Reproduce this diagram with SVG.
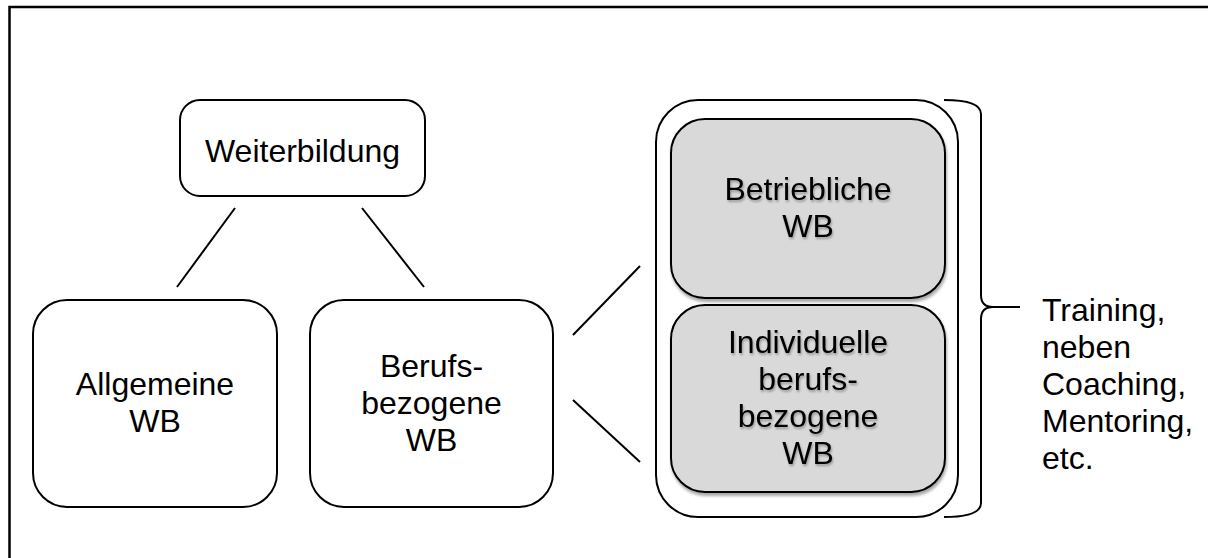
<svg xmlns="http://www.w3.org/2000/svg" width="1208" height="558" viewBox="0 0 1208 558">
<style>
  .box { fill: #ffffff; stroke: #000000; stroke-width: 2; }
  .gbox { fill: #d9d9d9; stroke: #000000; stroke-width: 2; filter: url(#boxShadow); }
  .lbl { font-family: "Liberation Sans", Arial, sans-serif; font-size: 32px; fill: #000000; text-anchor: middle; }
  .glbl { filter: url(#txtShadow); }
  .side { font-family: "Liberation Sans", Arial, sans-serif; font-size: 32px; fill: #000000; text-anchor: start; }
  .conn { stroke: #000000; stroke-width: 2; fill: none; }
</style>
<defs>
  <filter id="boxShadow" x="-10%" y="-10%" width="120%" height="130%">
    <feDropShadow dx="1" dy="3" stdDeviation="1.5" flood-color="#000000" flood-opacity="0.35"/>
  </filter>
  <filter id="txtShadow" x="-10%" y="-20%" width="120%" height="150%">
    <feDropShadow dx="1" dy="2" stdDeviation="1" flood-color="#000000" flood-opacity="0.3"/>
  </filter>
</defs>
<rect x="0" y="0" width="1208" height="558" fill="#ffffff"/>
<rect id="frame" x="9.5" y="7" width="1300" height="700" fill="none" stroke="#000000" stroke-width="2.5"/>

<g id="connectors">
  <line class="conn" x1="235" y1="208" x2="177" y2="287"/>
  <line class="conn" x1="362" y1="208" x2="424" y2="287"/>
  <line class="conn" x1="573" y1="335" x2="640" y2="266"/>
  <line class="conn" x1="573" y1="400" x2="640" y2="462"/>
</g>

<g id="weiterbildung">
  <rect class="box" x="180" y="100" width="245" height="96" rx="20" ry="20"/>
  <text class="lbl" x="302.5" y="162">Weiterbildung</text>
</g>

<g id="allgemeine">
  <rect class="box" x="33" y="300" width="244" height="207" rx="34" ry="34"/>
  <text class="lbl" x="155" y="395">Allgemeine</text>
  <text class="lbl" x="155" y="432">WB</text>
</g>

<g id="berufsbezogene">
  <rect class="box" x="310" y="300" width="243" height="207" rx="34" ry="34"/>
  <text class="lbl" x="431.5" y="377">Berufs-</text>
  <text class="lbl" x="431.5" y="414">bezogene</text>
  <text class="lbl" x="431.5" y="451">WB</text>
</g>

<g id="container">
  <rect class="box" x="656" y="100" width="302" height="417" rx="42" ry="42"/>
</g>

<g id="betriebliche">
  <rect class="gbox" x="671" y="119" width="274" height="179" rx="34" ry="34"/>
  <text class="lbl glbl" x="808" y="200">Betriebliche</text>
  <text class="lbl glbl" x="808" y="237">WB</text>
</g>

<g id="individuelle">
  <rect class="gbox" x="671" y="305" width="274" height="187" rx="34" ry="34"/>
  <text class="lbl glbl" x="808" y="353">Individuelle</text>
  <text class="lbl glbl" x="808" y="390">berufs-</text>
  <text class="lbl glbl" x="808" y="427">bezogene</text>
  <text class="lbl glbl" x="808" y="464">WB</text>
</g>

<g id="brace">
  <path class="conn" d="M944,100 Q981,100 981,114 L981,295 Q981,307 993,307 L1020,307 M993,307 Q981,307 981,319 L981,503 Q981,517 944,517"/>
</g>

<g id="methods">
  <text class="side" x="1042" y="321">Training,</text>
  <text class="side" x="1042" y="358">neben</text>
  <text class="side" x="1042" y="395">Coaching,</text>
  <text class="side" x="1042" y="432">Mentoring,</text>
  <text class="side" x="1042" y="469">etc.</text>
</g>
</svg>
